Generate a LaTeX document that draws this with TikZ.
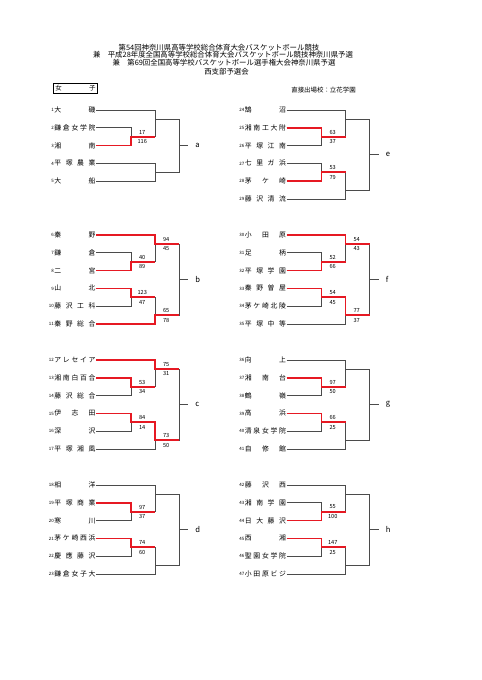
\documentclass[tikz,border=0pt]{standalone}
\usepackage{fontspec}
\setmainfont{Noto Sans CJK JP}
\usepackage{tikz}
\definecolor{winred}{RGB}{230,25,35}
\definecolor{linegray}{RGB}{75,75,75}
% school names spread over the full name field
\newcommand\jn[1]{\makebox[17.9mm][s]{\expandafter\jnloop#1\relax}}
\def\jnloop#1#2{#1\ifx\relax#2\else\hfill\expandafter\jnloop\expandafter#2\fi}

\begin{document}
\begin{tikzpicture}[x=0.43676mm, y=-0.43676mm,
  team/.style={anchor=east, inner xsep=0.5pt, inner ysep=0pt, text height=7.4pt, text depth=1.1pt, font=\fontsize{8.5}{10}\selectfont, label distance=2.5pt, label={[num]left:#1}},
  num/.style={font=\fontsize{5.5}{6}\selectfont, inner sep=0pt, text height=4pt, text depth=0pt},
  pts/.style={font=\fontsize{7}{8}\selectfont, inner sep=0pt},
  grp/.style={anchor=west, inner xsep=3mm, inner ysep=0pt, font=\fontsize{9.5}{11}\selectfont},
  head/.style={font=\fontsize{9.2}{10}\selectfont, inner sep=0pt},
  gline/.style={draw=linegray, line width=0.8pt},
  rline/.style={draw=winred, line width=2.2pt}]
\useasboundingbox[fill=white] (0,0) rectangle (481,680);
%titles
\node[head] (title1) at (219,47.3) {第54回神奈川県高等学校総合体育大会バスケットボール競技};
\node[head] (title2) at (223,55.1) {兼　平成28年度全国高等学校総合体育大会バスケットボール競技神奈川県予選};
\node[head] (title3) at (224,62.9) {兼　第69回全国高等学校バスケットボール選手権大会神奈川県予選};
\node[head] (title4) at (226.5,71.2) {西支部予選会};
\node[draw, line width=1.2pt, inner xsep=0.9mm, inner ysep=0pt, minimum height=4.4mm, font=\fontsize{8}{9}\selectfont] (girls) at (75.5,88.3) {\makebox[17.5mm][s]{女\hfill 子}};
\node[head, font=\fontsize{8}{9}\selectfont] (seed) at (323.5,90.5) {直接出場校：立花学園};
%teams
\foreach \n/\y/\nm in {1/110/大磯, 2/127.8/鎌倉女学院, 3/145.6/湘南, 4/163.4/平塚農業, 5/181.2/大船,
  6/235/秦野, 7/252.8/鎌倉, 8/270.6/二宮, 9/288.4/山北, 10/306.2/藤沢工科, 11/324/秦野総合,
  12/360/アレセイア, 13/377.8/湘南白百合, 14/395.6/藤沢総合, 15/413.4/伊志田, 16/431.2/深沢, 17/449/平塚湘風,
  18/485/相洋, 19/502.8/平塚商業, 20/520.6/寒川, 21/538.4/茅ケ崎西浜, 22/556.2/慶應藤沢, 23/574/鎌倉女子大}
  \node[team=\n] (t\n) at (96,\y) {\jn\nm};
\foreach \n/\y/\nm in {24/110/鵠沼, 25/127.8/湘南工大附, 26/145.6/平塚江南, 27/163.4/七里ガ浜, 28/181.2/茅ケ崎, 29/199/藤沢清流,
  30/235/小田原, 31/252.8/足柄, 32/270.6/平塚学園, 33/288.4/秦野曽屋, 34/306.2/茅ケ崎北陵, 35/324/平塚中等,
  36/360/向上, 37/377.8/湘南台, 38/395.6/鶴嶺, 39/413.4/高浜, 40/431.2/清泉女学院, 41/449/自修館,
  42/485/藤沢西, 43/502.8/湘南学園, 44/520.6/日大藤沢, 45/538.4/西湘, 46/556.2/聖園女学院, 47/574/小田原ビジ}
  \node[team=\n] (t\n) at (286.5,\y) {\jn\nm};
%block a
\coordinate (a1) at (131,136.7);
\coordinate (a2) at (155,118.9);
\coordinate (a3) at (155,172.3);
\coordinate (afin) at (179,145.6);
\node[grp] (la) at (188.3,145.6) {a};
\draw[gline] (t2.east) -| (a1) (t3.east) -| (a1) (t1.east) -| (a2) (a1) -| (a2)
  (t4.east) -| (a3) (t5.east) -| (a3) (a2) -| (afin) (a3) -| (afin) (afin) -- (la.west);
%blocks b to h
\foreach \g/\xo/\yo/\fa in {b/0/235/6, c/0/360/12, d/0/485/18, e/190.5/110/24, f/190.5/235/30, g/190.5/360/36, h/190.5/485/42} {
  \pgfmathtruncatemacro\fb{\fa+1}
  \pgfmathtruncatemacro\fc{\fa+2}
  \pgfmathtruncatemacro\fd{\fa+3}
  \pgfmathtruncatemacro\fe{\fa+4}
  \pgfmathtruncatemacro\ff{\fa+5}
  \coordinate (\g1) at (131+\xo,\yo+26.7);
  \coordinate (\g2) at (155+\xo,\yo+8.9);
  \coordinate (\g3) at (131+\xo,\yo+62.3);
  \coordinate (\g4) at (155+\xo,\yo+80.1);
  \coordinate (\g fin) at (179+\xo,\yo+44.5);
  \node[grp] (l\g) at (188.3+\xo,\yo+44.5) {\g};
  \draw[gline] (t\fb.east) -| (\g1) (t\fc.east) -| (\g1) (t\fa.east) -| (\g2) (\g1) -| (\g2)
    (t\fd.east) -| (\g3) (t\fe.east) -| (\g3) (\g3) -| (\g4) (t\ff.east) -| (\g4)
    (\g2) -| (\g fin) (\g4) -| (\g fin) (\g fin) -- (l\g.west);
}
%winners
\draw[rline] (t3.east) -| (a1) -- (a1 -| a2);
\draw[rline] (t8.east) -| (b1) -- (b1 -| b2) (t6.east) -| (b2) -- (b2 -| bfin)
  (t9.east) -| (b3) -- (b3 -| b4) (t11.east) -| (b4) -- (b4 -| bfin);
\draw[rline] (t13.east) -| (c1) -- (c1 -| c2) (t12.east) -| (c2) -- (c2 -| cfin)
  (t15.east) -| (c3) -| (c4) -- (c4 -| cfin);
\draw[rline] (t19.east) -| (d1) -- (d1 -| d2) (t21.east) -| (d3) -- (d3 -| d4);
\draw[rline] (t25.east) -| (e1) -- (e1 -| e2) (t28.east) -| (e3) -- (e3 -| e4);
\draw[rline] (t32.east) -| (f1) -- (f1 -| f2) (t30.east) -| (f2) -- (f2 -| ffin)
  (t33.east) -| (f3) -| (f4) -- (f4 -| ffin);
\draw[rline] (t37.east) -| (g1) -- (g1 -| g2) (t39.east) -| (g3) -- (g3 -| g4);
\draw[rline] (t44.east) -| (h1) -- (h1 -| h2) (t45.east) -| (h3) -- (h3 -| h4);
%scores
\foreach \m/\hi/\lo in {a1/17/116, b1/40/89, b2/94/45, b3/123/47, b4/65/78,
  c1/53/34, c2/75/31, c3/84/14, c4/73/50, d1/97/37, d3/74/60,
  e1/63/37, e3/53/79, f1/52/66, f2/54/43, f3/54/45, f4/77/37,
  g1/97/50, g3/66/25, h1/55/100, h3/147/25}
  \path (\m) ++(11.2,-4.7) node[pts] (\m u) {\hi} ++(0,9.7) node[pts] (\m d) {\lo};
\end{tikzpicture}
\end{document}
